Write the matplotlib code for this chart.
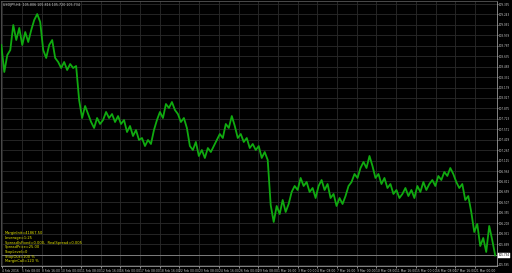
import numpy as np
import matplotlib
matplotlib.use('Agg')
import matplotlib.pyplot as plt
import matplotlib.transforms as mtransforms

# ======================== DATA ========================
symbol_title = "USDJPY,H4  105.806 105.816 105.720 105.734"

close = [
    108.798, 108.405, 108.652, 108.725, 109.089, 108.871, 109.046, 108.798, 108.987, 108.842,
    109.016, 109.162, 109.249, 109.133, 108.725, 108.609, 108.798, 108.871, 108.609, 108.551,
    108.463, 108.551, 108.434, 108.521, 108.463, 108.492, 107.997, 107.735, 107.910, 107.793,
    107.677, 107.590, 107.735, 107.648, 107.706, 107.823, 107.735, 107.793, 107.677, 107.764,
    107.648, 107.706, 107.531, 107.619, 107.473, 107.560, 107.415, 107.444, 107.327, 107.415,
    107.357, 107.560, 107.706, 107.823, 107.735, 107.939, 107.881, 107.968, 107.852, 107.793,
    107.677, 107.735, 107.590, 107.327, 107.269, 107.386, 107.182, 107.269, 107.153, 107.298,
    107.240, 107.327, 107.415, 107.502, 107.444, 107.648, 107.590, 107.764, 107.619, 107.444,
    107.502, 107.386, 107.444, 107.298, 107.357, 107.269, 107.327, 107.153, 107.240, 107.124,
    106.468, 106.221, 106.454, 106.337, 106.541, 106.367, 106.483, 106.658, 106.745, 106.687,
    106.862, 106.745, 106.803, 106.658, 106.716, 106.570, 106.745, 106.832, 106.687, 106.774,
    106.570, 106.629, 106.454, 106.570, 106.483, 106.599, 106.745, 106.803, 106.920, 106.862,
    107.007, 107.095, 107.007, 107.182, 107.036, 106.862, 106.920, 106.774, 106.862, 106.716,
    106.774, 106.629, 106.687, 106.570, 106.629, 106.716, 106.599, 106.687, 106.570, 106.745,
    106.658, 106.803, 106.687, 106.774, 106.832, 106.745, 106.891, 106.832, 106.949, 106.891,
    107.007, 106.920, 106.803, 106.716, 106.774, 106.541, 106.599, 106.367, 106.075, 106.192,
    105.871, 105.988, 105.784, 106.163, 105.959, 105.734,
]

price_labels = [109.395 - 0.152 * k for k in range(26)]

date_labels = [
    "4 Feb 2016", "5 Feb 08:00", "8 Feb 16:00", "10 Feb 00:00", "11 Feb 08:00",
    "12 Feb 16:00", "16 Feb 00:00", "17 Feb 08:00", "18 Feb 16:00", "22 Feb 00:00",
    "23 Feb 08:00", "24 Feb 16:00", "26 Feb 00:00", "29 Feb 08:00", "1 Mar 16:00",
    "3 Mar 00:00", "4 Mar 08:00", "7 Mar 16:00", "9 Mar 00:00", "10 Mar 08:00",
    "11 Mar 16:00", "15 Mar 00:00", "16 Mar 08:00", "17 Mar 16:00", "21 Mar 00:00",
]

info_lines = [
    "MarginInit=41867.50",
    "Leverage=1:25",
    "SpreadIsFixed=0.000,  RealSpread=0.005",
    "SpreadPrice=25.00",
    "StopLevel=0",
    "StopOut=100 %",
    "MarginCall=120 %",
]

# ======================== PLOT ========================
fig = plt.figure(figsize=(5.12, 2.73), dpi=100, facecolor='black')
ax = fig.add_axes([1 / 512, 7 / 273, 496 / 512, 265 / 273])
ax.set_facecolor('black')

x = np.arange(len(close))
last = close[-1]

# grid
for p in price_labels:
    ax.axhline(p, color='#2a2a2a', lw=0.6, zorder=0)
date_pos = np.arange(len(date_labels)) * 6.58 + 0.3
for d in date_pos:
    ax.axvline(d, color='#2a2a2a', lw=0.6, zorder=0)

# price line + bid line
ax.plot(x, close, color='#10aa10', lw=1.3, zorder=3)
ax.axhline(last, color='#8a8a8a', lw=0.6, zorder=2)

ax.set_xlim(-0.1, 165.6)
ax.set_ylim(105.580, 109.439)

# axes look
for side in ['left', 'top']:
    ax.spines[side].set_color('#555555')
    ax.spines[side].set_linewidth(0.6)
for side in ['right', 'bottom']:
    ax.spines[side].set_color('#9a9a9a')
    ax.spines[side].set_linewidth(0.6)

ax.yaxis.tick_right()
ax.set_yticks(price_labels)
ax.set_yticklabels([f"{p:.3f}" for p in price_labels])
ax.tick_params(axis='y', colors='#c8c8c8', labelsize=2.0, length=1.0, width=0.5, pad=0.5)

ax.set_xticks(date_pos)
ax.set_xticklabels(date_labels, ha='left')
ax.tick_params(axis='x', colors='#c8c8c8', labelsize=2.2, length=1.2, width=0.5, pad=1.0)

# current price box
trans = mtransforms.blended_transform_factory(ax.transAxes, ax.transData)
ax.text(1.003, last, f"{last:.3f}", transform=trans, fontsize=2.0, color='black',
        va='center', ha='left', zorder=5,
        bbox=dict(boxstyle='square,pad=0.15', fc='white', ec='white', lw=0.3))

# title
ax.text(0.004, 0.993, symbol_title, transform=ax.transAxes, fontsize=2.3,
        color='#d0d0d0', va='top', ha='left')

# account info
for i, line in enumerate(info_lines):
    ax.text(0.008, 0.124 - i * 0.0178, line, transform=ax.transAxes, fontsize=2.6,
            color='#e6e600', va='center', ha='left')

fig.savefig('out.png', dpi=100, facecolor='black')
